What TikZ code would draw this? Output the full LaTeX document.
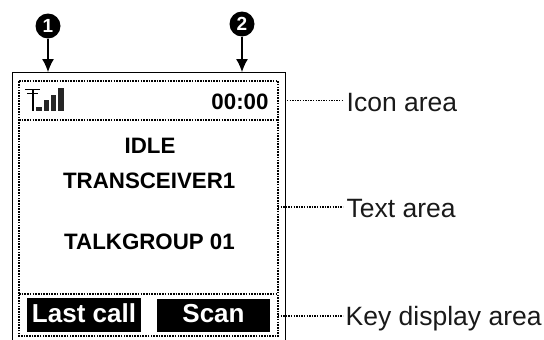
\documentclass[tikz,border=0pt]{standalone}
\usepackage{fontspec}
\setmainfont{Liberation Sans}
\usetikzlibrary{arrows.meta}
\tikzset{
	screenlabel/.style={font=\fontsize{22.3}{22.3}\selectfont\bfseries,inner sep=0pt},
	softkey/.style={fill=black,text=white,font=\fontsize{26}{26}\selectfont\bfseries,inner sep=0pt,anchor=center},
	arealabel/.style={font=\fontsize{26.5}{26.5}\selectfont,inner sep=0pt,anchor=west,text=black!90},
	callout/.style={circle,fill=black,text=white,font=\fontsize{19}{19}\selectfont\bfseries,inner sep=0pt,minimum size=25pt},
	dotline/.style={line width=1.9pt,dash pattern=on 1.6pt off 1.1pt},
	leader/.style={line width=1.5pt,dash pattern=on 1.4pt off 1.2pt}
}
\begin{document}
\begin{tikzpicture}[x=1pt,y=-1pt]
	\useasboundingbox (0,0) rectangle (544,340);
	\path
	(12.5,340) coordinate (FL)
	(12.5,72.5) coordinate (TL)
	(285.5,72.5) coordinate (TR)
	(285.5,340) coordinate (FR)
	(19,81) coordinate (A)
	(278,81) coordinate (B)
	(278,336) coordinate (C)
	(19,336) coordinate (D)
	(19,120) coordinate (E)
	(278,120) coordinate (F)
	(19,294) coordinate (G)
	(278,294) coordinate (H);
	\draw[line width=1.4pt] (FL)--(TL)--(TR)--(FR);
	\draw[dotline] (A)--(B)--(C)--(D)--cycle (E)--(F) (G)--(H);
	% signal icon
	\draw[line width=1.3pt] (25,89.5)--(40,89.5) (27,93.5)--(38,93.5);
	\draw[line width=2pt] (32.5,89)--(32.5,110.5);
	\foreach \x/\y in {36/106.5,43.5/100,50.5/95,58/88}
	\fill[black!85] (\x,\y) rectangle (\x+5.5,110.5);
	% screen texts
	\node[screenlabel] (clock) at (240,102) {00:00};
	\node[screenlabel] (status) at (150,146) {IDLE};
	\node[screenlabel] (radio) at (149.2,180.5) {TRANSCEIVER1};
	\node[screenlabel] (group) at (149.5,241.5) {TALKGROUP 01};
	\node[softkey,minimum width=114pt,text height=24pt,text depth=10pt] (lastcall) at (84,315) {Last call};
	\node[softkey,minimum width=113pt,text height=23.5pt,text depth=9.5pt] (scan) at (213.5,315.5) {Scan};
	% callouts
	\node[callout] (one) at (48,26) {1};
	\node[callout] (two) at (242,24) {2};
	\draw[-{Latex[length=13pt,width=12pt]},line width=1.2pt] (one)--(48,72);
	\draw[-{Latex[length=13pt,width=12pt]},line width=1.2pt] (two)--(242,72);
	% area labels
	\node[arealabel] (icon) at (346.5,102.5) {Icon area};
	\node[arealabel] (text) at (346.5,209) {Text area};
	\node[arealabel] (key) at (345.5,318.5) {Key display area};
	\draw[leader] (287,100.5)--(343,100.5);
	\draw[leader] (278,207)--(343,207);
	\draw[leader] (278,316)--(343,316);
\end{tikzpicture}
\end{document}
